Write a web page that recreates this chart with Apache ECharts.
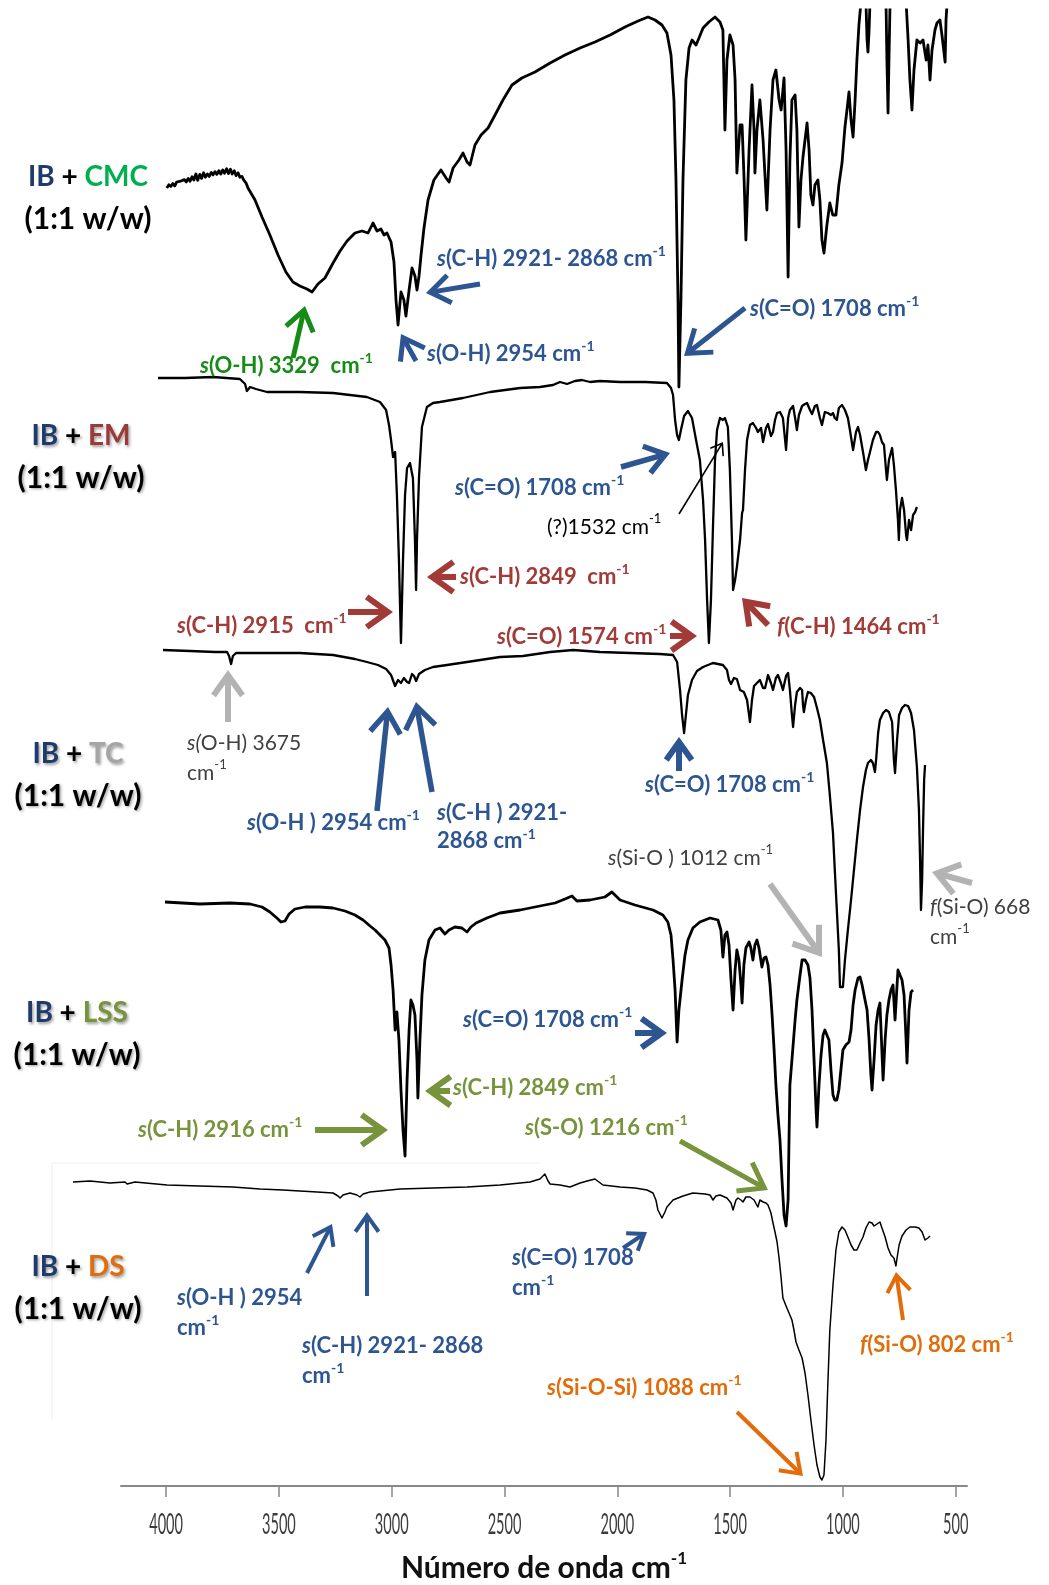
<!DOCTYPE html>
<html>
<head>
<meta charset="utf-8">
<script src="https://cdn.jsdelivr.net/npm/echarts@6/dist/echarts.min.js"></script>
<style>
  html, body { margin: 0; padding: 0; background: #fff; }
  #chart { width: 1049px; height: 1585px; }
</style>
</head>
<body>
<div id="chart"></div>
<script>
// FTIR spectra of IB blends (1:1 w/w). Each spectrum: [wavenumber cm-1, relative transmittance %]
const wavenumberTicks = [4000, 3500, 3000, 2500, 2000, 1500, 1000, 500];

const cmcSpectrum = [
[3997,55.5],[3988,56.3],[3979,55.9],[3970,56.6],[3962,56.0],[3953,57.0],[3945,56.5],[3936,57.2],[3928,56.7],[3919,57.6],[3911,57.0],[3902,57.9],[3894,57.2],[3885,58.3],[3877,57.5],[3868,59.0],[3860,57.4],[3851,58.9],[3843,57.9],[3834,59.3],[3826,58.2],[3817,59.0],[3809,58.4],[3800,59.4],[3792,58.8],[3783,59.6],[3775,58.9],[3766,59.8],[3758,59.0],[3749,60.0],[3741,59.2],[3732,60.3],[3724,59.1],[3715,60.2],[3707,59.0],[3698,59.8],[3690,58.6],[3681,59.3],[3673,58.2],[3664,58.4],[3655,57.4],[3646,56.8],[3637,55.5],[3606,52.5],[3575,48.25],[3540,43.75],[3504,38.75],[3469,34.5],[3438,32],[3407,31],[3376,30.25],[3353,29.5],[3327,31.5],[3296,33],[3260,36.75],[3229,39.75],[3198,42.25],[3163,44.25],[3132,44.75],[3105,44.25],[3083,46.75],[3065,44.75],[3048,45.25],[3034,43.75],[3021,44.25],[3003,42],[2990,37],[2981,27.5],[2972,21.25],[2959,29.5],[2946,27.5],[2937,23.5],[2923,30],[2910,35.5],[2897,33.5],[2888,30],[2879,33.5],[2870,38.75],[2857,45.5],[2839,52.5],[2813,57.5],[2782,60],[2759,58],[2746,57],[2728,60.5],[2702,62.5],[2684,64.25],[2666,62],[2653,61.25],[2631,66.25],[2604,68.75],[2573,70.5],[2542,73.75],[2507,77.5],[2467,81.25],[2423,83],[2365,84.5],[2298,86.75],[2232,88.75],[2165,90.5],[2099,92],[2032,93.75],[1966,95.75],[1908,97.25],[1864,98.25],[1833,97.5],[1802,96.25],[1780,94.25],[1762,88.75],[1749,77.5],[1740,57.5],[1731,27.5],[1727,5.75],[1718,27.5],[1709,57.5],[1696,82.5],[1682,90.5],[1669,92.5],[1651,91.25],[1638,93],[1620,95.5],[1594,97],[1567,98.25],[1545,97],[1532,95],[1523,70],[1514,87.5],[1501,93.75],[1487,91.25],[1478,82.5],[1470,59.25],[1456,71.25],[1447,71.25],[1438,57.5],[1430,42.5],[1416,65],[1403,81.25],[1394,70],[1390,59.25],[1381,70],[1368,77.5],[1354,67.5],[1337,50],[1323,70],[1310,82.5],[1297,85],[1283,77.5],[1274,75],[1261,83],[1252,65],[1243,33.25],[1235,62.5],[1226,77.5],[1212,78.75],[1204,70],[1195,45.75],[1186,57.5],[1177,63.25],[1168,67.5],[1159,71.75],[1150,65],[1142,53.75],[1133,51.25],[1124,56.25],[1111,57.5],[1102,52.5],[1093,42.5],[1084,39.25],[1071,46.25],[1058,51.75],[1045,48.75],[1031,48.75],[1018,56.25],[1004,61.75],[991,70.75],[982,75],[973,79.5],[964,72.5],[955,68.25],[946,77.5],[938,87.5],[929,96.25],[920,102],[898,102],[893,92.5],[889,89.5],[884,95],[880,102],[809,102],[805,87.5],[800,74.25],[796,87.5],[791,102],[720,102],[711,92.5],[703,82.5],[694,75],[685,85],[672,92.5],[658,91.75],[645,92.5],[631,87.5],[623,91.25],[614,82.5],[605,90],[592,95],[583,96.75],[570,97.5],[561,93.75],[547,87],[543,97.5],[538,102]
];

const emSpectrum = [
[4036,80.5],[3916,80.5],[3792,80.75],[3673,80.25],[3650,79],[3642,77.25],[3628,78.25],[3602,77.75],[3553,77],[3407,77],[3260,76.75],[3110,75.75],[3052,74.5],[3025,72.5],[3012,68.75],[3003,65],[2994,60.75],[2985,62],[2977,51.25],[2968,35],[2959,14.25],[2950,35],[2941,51.25],[2932,58],[2919,59.25],[2906,55.5],[2897,40],[2892,27.5],[2888,40],[2879,55.75],[2866,68.25],[2844,73.25],[2817,74.25],[2786,74.5],[2684,75.5],[2564,77],[2431,78],[2343,78.25],[2285,78.75],[2254,79.5],[2223,79],[2188,79.75],[2157,80],[2121,79.5],[2077,79.75],[1988,79.5],[1877,79.5],[1780,79.25],[1762,78],[1753,76.25],[1744,70],[1735,66.25],[1727,65],[1718,67.5],[1704,71],[1687,72.25],[1669,70.5],[1651,65],[1634,60],[1620,50],[1611,40],[1602,25],[1594,14.25],[1585,25],[1576,43.25],[1567,60],[1558,67.5],[1545,70.5],[1532,70],[1523,70.5],[1510,68.25],[1501,57.5],[1492,40],[1487,27.5],[1478,30],[1470,33.25],[1456,40],[1447,46.75],[1443,47.5],[1434,57.5],[1425,65],[1412,68.75],[1399,69.25],[1385,68],[1377,67],[1363,68],[1354,64.5],[1341,68],[1332,69],[1319,66],[1310,67],[1301,70],[1292,71.75],[1279,72],[1266,70.5],[1252,62.5],[1243,70.5],[1235,72.5],[1221,73.5],[1212,70.5],[1204,67.5],[1195,71.25],[1181,73.5],[1168,74],[1159,74.25],[1146,72.5],[1137,71.5],[1124,73.5],[1115,73.75],[1102,70.5],[1093,68.75],[1080,72],[1067,71.75],[1053,71.25],[1044,71.75],[1036,70.5],[1027,70],[1018,73],[1004,73.75],[991,72.5],[978,70.5],[969,67.5],[955,62.5],[942,67],[933,68.25],[924,66.25],[911,62],[898,57.5],[889,60],[880,62],[867,65],[853,67],[844,67],[836,66.25],[827,64.5],[818,63.75],[809,57.5],[805,55],[796,60],[782,63],[774,58.75],[765,52.5],[756,45],[752,40],[747,47.5],[738,50.5],[729,47.5],[720,41.25],[716,40],[707,45],[698,42.5],[689,46.25],[680,47],[672,48.25]
];

const tcSpectrum = [
[4014,92.5],[3894,92.25],[3783,92],[3730,92],[3721,91],[3712,89],[3704,91],[3690,91.75],[3553,91.75],[3407,91.75],[3260,91.25],[3163,90.25],[3110,89.5],[3061,88.75],[3025,87.75],[3003,86.25],[2990,84.25],[2985,83.5],[2972,85],[2959,84.25],[2946,85.5],[2932,84.5],[2923,84.25],[2910,86.5],[2901,86],[2892,84.75],[2879,86.5],[2853,87.5],[2817,88.25],[2755,88.75],[2666,89.5],[2520,90.75],[2418,91],[2298,92],[2196,92.5],[2077,92],[1944,91.75],[1811,91.5],[1753,91.25],[1735,89.5],[1722,82.5],[1713,76.25],[1704,71.75],[1696,76.25],[1687,81.25],[1669,85],[1647,87.25],[1620,88.25],[1576,89.25],[1532,88.75],[1514,87.5],[1505,85],[1496,84],[1483,85.5],[1470,85.25],[1456,82.5],[1439,82],[1425,80],[1416,76.25],[1412,74.5],[1403,80],[1394,83.5],[1381,84.25],[1368,85],[1354,83],[1345,83],[1332,86.25],[1319,84.25],[1310,82.5],[1297,85.5],[1288,86.25],[1275,84.25],[1266,82.5],[1252,86],[1243,86.75],[1235,82.5],[1226,76.25],[1221,73.25],[1212,78.75],[1204,82],[1190,83],[1181,82.5],[1177,78.75],[1173,77],[1164,80],[1155,82],[1142,81.75],[1128,80.75],[1115,78],[1102,75],[1088,70],[1071,64.25],[1058,56.25],[1044,46.75],[1036,37.5],[1027,27.5],[1018,17.5],[1013,8.25],[1000,8.25],[991,15],[978,22.5],[964,30],[951,37.5],[938,45],[924,52.5],[911,58.25],[898,62.5],[889,64.25],[876,65],[867,64.25],[858,62],[853,65],[844,71.75],[836,75],[822,76.75],[809,77.5],[796,77],[782,74.5],[774,65],[769,61.75],[760,70],[751,76.25],[738,78],[725,78.75],[711,78.5],[698,76.75],[685,72.5],[672,63.25],[663,52.5],[658,40],[654,27.5],[649,35],[645,47.5],[640,60],[636,63.75]
];

const lssSpectrum = [
[4005,87],[3850,86.5],[3717,86.75],[3628,86.5],[3575,85.75],[3540,84.5],[3509,83],[3491,82],[3473,82.25],[3455,84],[3429,85.25],[3384,85.75],[3318,85.75],[3260,85.5],[3207,84.75],[3163,83.75],[3127,82.5],[3096,81],[3074,80],[3052,78.75],[3030,77.5],[3012,75.5],[3003,71.25],[2994,65],[2985,55],[2977,59.5],[2968,52.5],[2959,40],[2950,30],[2941,23.5],[2932,42.5],[2923,55],[2915,62.5],[2906,61.25],[2897,58.75],[2888,47.5],[2884,38],[2875,52.5],[2866,63.75],[2853,72.5],[2835,77.5],[2808,80],[2786,80.5],[2764,79],[2746,80],[2720,80.75],[2689,80.5],[2666,79.5],[2649,80.75],[2626,81.75],[2578,83],[2520,84.25],[2431,85],[2343,86],[2276,86.75],[2232,87.75],[2201,88.5],[2179,87.25],[2121,87.5],[2055,88.25],[2024,89.5],[1988,87.5],[1922,86.25],[1842,85],[1798,83.75],[1776,82],[1762,78.75],[1753,72.5],[1744,65],[1735,52],[1727,60],[1713,67.5],[1700,73.75],[1687,77.5],[1665,80.5],[1634,82],[1589,83],[1554,82.5],[1541,80],[1532,73.25],[1523,78.75],[1514,79.5],[1505,76.25],[1496,67.5],[1487,60],[1478,70],[1470,75],[1461,72.5],[1452,66.25],[1447,61.75],[1439,71.25],[1430,75.5],[1416,77],[1408,75.5],[1399,72.5],[1390,76.25],[1381,77.5],[1372,75.5],[1359,70.75],[1350,73],[1341,73.25],[1332,71.25],[1323,66.25],[1314,58.75],[1305,50],[1297,41.25],[1288,33.75],[1279,27.5],[1270,17.5],[1261,8.75],[1252,6],[1243,12.5],[1239,27.5],[1235,41.25],[1226,47.5],[1212,57.5],[1204,62.5],[1190,68.75],[1181,72.5],[1168,72.5],[1155,71.25],[1146,68],[1137,60],[1128,47.5],[1119,35],[1115,30.75],[1106,41.25],[1097,48.75],[1088,53.75],[1080,55],[1071,53.75],[1062,52.5],[1053,45],[1044,38.75],[1036,37.5],[1027,37.5],[1018,40],[1009,45],[1000,50],[987,51.25],[973,52],[964,55],[955,61.25],[946,65],[933,68],[924,68.25],[915,66.25],[902,62.5],[893,60],[884,52.5],[876,43.75],[871,40],[862,47.5],[853,56.25],[844,60],[836,61.75],[831,55],[822,42.5],[813,52.5],[805,58.75],[796,62.5],[787,65],[778,66.25],[769,57.5],[760,66.25],[756,70],[747,68.75],[738,67.5],[729,63.75],[720,52.5],[716,46.75],[707,60],[698,64.5],[689,65]
];

const dsSpectrum = [
[4413,76],[4337,76.25],[4249,75.75],[4182,76],[4173,75.5],[4138,76],[3996,75.25],[3850,75],[3704,74.75],[3584,74.25],[3482,74],[3407,73.75],[3331,73.5],[3260,73.25],[3238,72.5],[3229,72],[3216,72.75],[3185,73.25],[3154,72.75],[3141,72.25],[3127,73],[3096,73.5],[2963,74.25],[2817,74.5],[2666,74.75],[2520,75.25],[2431,75.75],[2387,76],[2343,76.75],[2321,78],[2307,76.25],[2298,75.5],[2254,75.25],[2210,74.75],[2165,75.75],[2134,76.25],[2099,76.75],[2064,75.25],[1988,74.75],[1922,74.5],[1868,74],[1842,73.25],[1829,71.5],[1820,69],[1802,67],[1789,68.5],[1780,69.75],[1753,71.5],[1709,72.5],[1665,73.25],[1611,73],[1589,72.75],[1576,71.5],[1563,72.5],[1545,72.75],[1514,72],[1496,70.75],[1487,69],[1474,71.5],[1465,72],[1452,71.5],[1443,71],[1430,72.25],[1412,72.25],[1394,71.5],[1377,69.75],[1368,71.5],[1354,71],[1341,70.75],[1332,70.25],[1319,68.25],[1310,65.75],[1301,63.5],[1292,61],[1283,57],[1274,52],[1266,47],[1252,45],[1239,43.25],[1226,41.5],[1217,39],[1208,36],[1195,34],[1181,32],[1168,28.25],[1155,22.75],[1142,16.5],[1128,10.25],[1115,5.25],[1102,2.25],[1093,1.5],[1084,2.75],[1075,11.5],[1067,25.25],[1058,39],[1044,50.25],[1031,59],[1018,63.5],[1004,64.75],[991,64],[978,62.25],[964,60.25],[951,59],[938,59],[924,60.75],[911,62.25],[898,64.5],[884,66],[871,65.75],[862,65],[849,65.5],[836,66],[827,64.5],[813,62.25],[800,59.5],[787,57.75],[774,57],[765,55],[760,57],[751,60.25],[738,62.5],[720,64],[703,64.75],[680,64.75],[663,64.5],[649,63.5],[636,61.5],[623,62],[614,62.5]
];

// ---- styling ----
const FONT = 'Lato, "Open Sans", "Noto Sans", sans-serif';
const NAVY = '#1f3b6b', BLUE = '#2c5592', RED = '#a23b38', EMRED = '#9c3a37';
const CMCGREEN = '#00b050', NOTEGREEN = '#168b16', OLIVE = '#77933c', ORANGE = '#e36c0a';
const GREYTXT = '#404040', GREYARROW = '#b3b3b3', TCGREY = '#a5a5a5';

// wavenumber scale: axis runs 4200 -> 450 over the frame; spectrum panels are widened
// to the left on the same scale so traces that start beyond 4200 cm-1 stay visible
const AXIS_MIN = 450, AXIS_MAX = 4200, AXIS_LEFT = 121, AXIS_RIGHT = 82;
const PANEL_LEFT = 60;
const PX_PER_UNIT = (1049 - AXIS_LEFT - AXIS_RIGHT) / (AXIS_MAX - AXIS_MIN);
const PANEL_MAX = AXIS_MAX + (AXIS_LEFT - PANEL_LEFT) / PX_PER_UNIT;

const bands = [
  { data: cmcSpectrum, top: 10,   width: 2.8, clip: true  },
  { data: emSpectrum,  top: 300,  width: 2.3, clip: false },
  { data: tcSpectrum,  top: 620,  width: 2.3, clip: false },
  { data: lssSpectrum, top: 850,  width: 2.8, clip: false },
  { data: dsSpectrum,  top: 1086, width: 1.5, clip: false }
];
const AXIS_IDX = bands.length;

const grids = bands.map(b => ({ left: PANEL_LEFT, right: AXIS_RIGHT, top: b.top, height: 400 }));
grids.push({ left: AXIS_LEFT, right: AXIS_RIGHT, top: 1086, height: 400 });

const xAxes = bands.map((b, i) => ({
  type: 'value', gridIndex: i, min: AXIS_MIN, max: PANEL_MAX, inverse: true, show: false
}));
xAxes.push({
  type: 'value', gridIndex: AXIS_IDX, min: AXIS_MIN, max: AXIS_MAX, inverse: true,
  splitLine: { show: false },
  axisLine: { show: true, lineStyle: { color: '#888', width: 2 } },
  axisTick: { show: true, inside: false, length: 11, customValues: wavenumberTicks, lineStyle: { color: '#888', width: 1.5 } },
  axisLabel: { show: false, customValues: wavenumberTicks },
  name: '{n|Número de onda cm}{u|-1}',
  nameLocation: 'middle',
  nameGap: 64,
  nameTextStyle: {
    rich: {
      n: { fontFamily: FONT, fontSize: 30, fontWeight: 'bold', color: '#111', lineHeight: 36 },
      u: { fontFamily: FONT, fontSize: 17, fontWeight: 'bold', color: '#111', lineHeight: 20, verticalAlign: 'top' }
    }
  }
});
const yAxes = grids.map((g, i) => ({ type: 'value', gridIndex: i, min: 0, max: 100, show: false }));
const series = bands.map((b, i) => ({
  type: 'line', xAxisIndex: i, yAxisIndex: i, data: b.data,
  showSymbol: false, symbol: 'none', clip: b.clip, smooth: false,
  lineStyle: { color: '#000', width: b.width, join: 'round' }, z: 3
}));

// ---- annotation helpers ----
function arrow(x1, y1, x2, y2, color, width, head) {
  const dx = x1 - x2, dy = y1 - y2, len = Math.hypot(dx, dy);
  const ux = dx / len, uy = dy / len, a = 0.62;
  const rot = t => [ux * Math.cos(t) - uy * Math.sin(t), ux * Math.sin(t) + uy * Math.cos(t)];
  const r1 = rot(a), r2 = rot(-a);
  const off = width / (2 * Math.sin(a));
  const ax = x2 + ux * off, ay = y2 + uy * off;
  return {
    type: 'group', silent: true, z: 10, children: [
      { type: 'line', shape: { x1: x1, y1: y1, x2: ax + ux * width * 0.5, y2: ay + uy * width * 0.5 },
        style: { stroke: color, lineWidth: width, lineCap: 'butt' } },
      { type: 'polyline', shape: { points: [[ax + r1[0] * head, ay + r1[1] * head], [ax, ay], [ax + r2[0] * head, ay + r2[1] * head]] },
        style: { stroke: color, fill: 'none', lineWidth: width, lineJoin: 'miter', lineCap: 'butt' } }
    ]
  };
}

function richSet(color, size, weight, lh, shadow) {
  const base = { fill: color, fontFamily: FONT, fontSize: size, fontWeight: weight, lineHeight: lh };
  if (shadow) Object.assign(base, { textShadowColor: 'rgba(0,0,0,0.38)', textShadowBlur: 3, textShadowOffsetX: 1.5, textShadowOffsetY: 1.5 });
  return base;
}

function note(x, y, text, color, opt) {
  opt = opt || {};
  const size = opt.size || 22, weight = opt.weight || 'bold', lh = opt.lh || 29;
  const base = richSet(color, size, weight, lh);
  return {
    type: 'text', x: x, y: y, silent: true, z: 11,
    style: Object.assign({}, base, {
      text: text, align: 'left', verticalAlign: 'middle', textAlign: 'left', textVerticalAlign: 'middle',
      rich: {
        i: Object.assign({}, base, { fontStyle: 'italic' }),
        u: Object.assign({}, base, { fontSize: Math.round(size * 0.62), lineHeight: Math.round(size * 0.8), verticalAlign: 'top' })
      }
    })
  };
}

function sampleLabel(cx, cy, name, nameColor, shadow) {
  const mk = (c, s) => richSet(c, s, 'bold', 36, shadow);
  return [
    { type: 'text', x: cx, y: cy, silent: true, z: 11,
      style: Object.assign({}, mk('#000', 28), {
        text: '{b|IB}{k| + }{c|' + name + '}', align: 'center', verticalAlign: 'middle', textAlign: 'center', textVerticalAlign: 'middle',
        rich: { b: mk(NAVY, 28), k: mk('#000', 28), c: mk(nameColor, 28) } }) },
    { type: 'text', x: cx, y: cy + 42, silent: true, z: 11,
      style: Object.assign({}, mk('#000', 30), {
        text: '{k|(1:1 w/w)}', align: 'center', verticalAlign: 'middle', textAlign: 'center', textVerticalAlign: 'middle',
        rich: { k: mk('#000', 30) } }) }
  ];
}

const annotations = [].concat(
  // faint frame lines around the lowest panel
  [{ type: 'line', silent: true, shape: { x1: 52, y1: 1163, x2: 52, y2: 1420 }, style: { stroke: '#ededed', lineWidth: 1 } },
   { type: 'line', silent: true, shape: { x1: 52, y1: 1163, x2: 540, y2: 1163 }, style: { stroke: '#f1f1f1', lineWidth: 1 } }],

  sampleLabel(88, 177, 'CMC', CMCGREEN, false),
  sampleLabel(81, 436, 'EM', EMRED, true),
  sampleLabel(78, 754, 'TC', TCGREY, true),
  sampleLabel(77, 1013, 'LSS', OLIVE, true),
  sampleLabel(78, 1267, 'DS', ORANGE, true),

  // IB + CMC
  [note(200, 366, '{i|s}(O-H) 3329  cm{u|-1}', NOTEGREEN),
   arrow(293, 358, 305, 306, NOTEGREEN, 5, 24),
   note(437, 259, '{i|s}(C-H) 2921- 2868 cm{u|-1}', BLUE),
   arrow(480, 284, 426, 293, BLUE, 5, 24),
   note(427, 354, '{i|s}(O-H) 2954 cm{u|-1}', BLUE),
   arrow(416, 361, 401, 334, BLUE, 5, 24),
   note(750, 309, '{i|s}(C=O) 1708 cm{u|-1}', BLUE),
   arrow(745, 308, 684, 356, BLUE, 5, 26)],

  // IB + EM
  [note(455, 488, '{i|s}(C=O) 1708 cm{u|-1}', BLUE),
   arrow(621, 467, 670, 453, BLUE, 5.5, 24),
   note(547, 527, '(?)1532 cm{u|-1}', '#000', { weight: 'normal', size: 21 }),
   arrow(679, 514, 723, 442, '#000', 1.6, 13),
   note(460, 577, '{i|s}(C-H) 2849  cm{u|-1}', RED),
   arrow(456, 577, 427, 577, RED, 6, 26),
   note(177, 626, '{i|s}(C-H) 2915  cm{u|-1}', RED),
   arrow(348, 612, 393, 612, RED, 6, 26),
   note(497, 637, '{i|s}(C=O) 1574 cm{u|-1}', RED),
   arrow(670, 636, 697, 636, RED, 6, 25),
   note(777, 627, '{i|f}(C-H) 1464 cm{u|-1}', RED),
   arrow(768, 625, 742, 598, RED, 6, 25)],

  // IB + TC
  [note(187, 758, '{i|s(}O-H) 3675\ncm{u|-1}', GREYTXT, { weight: 'normal', size: 21, lh: 30 }),
   arrow(228, 722, 228, 670, GREYARROW, 6, 25),
   note(247, 823, '{i|s}(O-H ) 2954 cm{u|-1}', BLUE),
   arrow(377, 811, 388, 707, BLUE, 5.5, 26),
   note(437, 827, '{i|s}(C-H ) 2921-\n2868 cm{u|-1}', BLUE, { lh: 28 }),
   arrow(432, 792, 416, 702, BLUE, 5.5, 26),
   note(645, 785, '{i|s}(C=O) 1708 cm{u|-1}', BLUE),
   arrow(679, 771, 679, 737, BLUE, 6, 22),
   note(608, 858, '{i|s}(Si-O ) 1012 cm{u|-1}', GREYTXT, { weight: 'normal', size: 21 }),
   arrow(770, 884, 822, 957, GREYARROW, 6, 28),
   note(930, 922, '{i|f}(Si-O) 668\ncm{u|-1}', GREYTXT, { weight: 'normal', size: 21, lh: 30 }),
   arrow(972, 883, 932, 872, GREYARROW, 6, 26)],

  // IB + LSS
  [note(463, 1020, '{i|s}(C=O) 1708 cm{u|-1}', BLUE),
   arrow(635, 1033, 667, 1033, BLUE, 6, 25),
   note(453, 1088, '{i|s}(C-H) 2849 cm{u|-1}', OLIVE),
   arrow(450, 1091, 425, 1091, OLIVE, 6, 25),
   note(138, 1130, '{i|s}(C-H) 2916 cm{u|-1}', OLIVE),
   arrow(315, 1130, 388, 1130, OLIVE, 6, 26),
   note(525, 1128, '{i|s}(S-O) 1216 cm{u|-1}', OLIVE),
   arrow(680, 1141, 768, 1190, OLIVE, 5, 28)],

  // IB + DS
  [note(177, 1313, '{i|s}(O-H ) 2954\ncm{u|-1}', BLUE, { lh: 30 }),
   arrow(307, 1273, 332, 1224, BLUE, 4, 20),
   note(302, 1361, '{i|s}(C-H) 2921- 2868\ncm{u|-1}', BLUE, { lh: 30 }),
   arrow(367, 1296, 367, 1212, BLUE, 4, 20),
   note(512, 1273, '{i|s}(C=O) 1708\ncm{u|-1}', BLUE, { lh: 30 }),
   arrow(623, 1248, 647, 1232, BLUE, 4, 18),
   note(860, 1345, '{i|f}(Si-O) 802 cm{u|-1}', ORANGE),
   arrow(903, 1320, 896, 1272, ORANGE, 4, 20),
   note(547, 1388, '{i|s}(Si-O-Si) 1088 cm{u|-1}', ORANGE),
   arrow(737, 1412, 803, 1476, ORANGE, 4, 22)]
);

const chart = echarts.init(document.getElementById('chart'), null, { renderer: 'canvas' });
chart.setOption({
  animation: false,
  backgroundColor: '#fff',
  grid: grids,
  xAxis: xAxes,
  yAxis: yAxes,
  series: series
});

// condensed tick labels placed through the wavenumber axis
const axisY = chart.convertToPixel({ yAxisIndex: AXIS_IDX }, 0);
const tickLabels = wavenumberTicks.map(v => ({
  type: 'text', silent: true, z: 11,
  x: chart.convertToPixel({ xAxisIndex: AXIS_IDX }, v), y: axisY + 39, scaleX: 0.52,
  style: { text: String(v), fontFamily: FONT, fontSize: 28, fill: '#3c3c3c',
           align: 'center', verticalAlign: 'middle', textAlign: 'center', textVerticalAlign: 'middle' }
}));

chart.setOption({ graphic: annotations.concat(tickLabels) });
</script>
</body>
</html>
